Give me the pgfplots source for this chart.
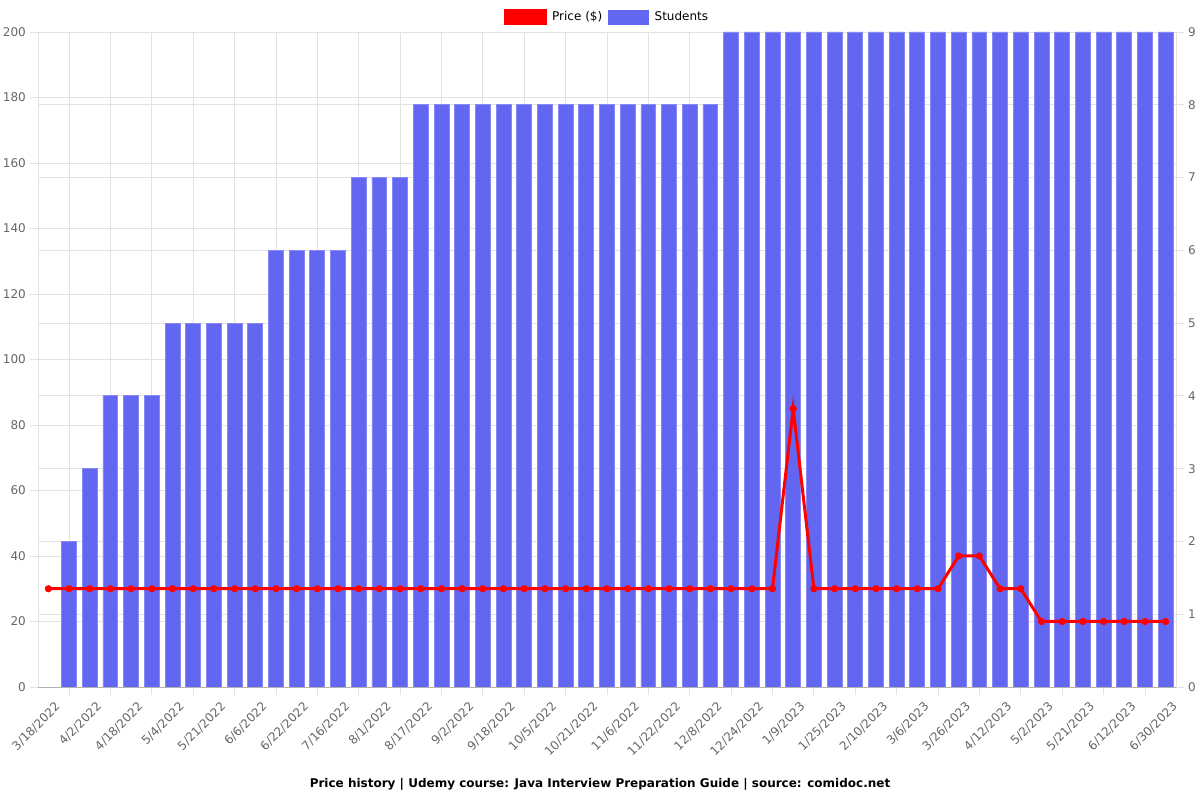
\documentclass[border=0pt]{standalone}
\usepackage{fontspec}
\setmainfont{DejaVu Sans}
\usepackage{pgfplots}
\pgfplotsset{compat=1.18}
\definecolor{barfill}{RGB}{99,102,241}
\definecolor{barline}{RGB}{135,138,246}
\definecolor{gridc}{RGB}{226,226,226}
\definecolor{tickc}{RGB}{102,102,102}
\newcommand{\fs}{\fontsize{12bp}{14bp}\selectfont}
\begin{document}
\fs
\begin{tikzpicture}
\path[use as bounding box] (0,0) rectangle (1200bp,800bp);
% Axis A: grids, left ticks, x labels, legend
\begin{axis}[
  at={(38bp,113bp)}, anchor=south west, scale only axis,
  width=1138bp, height=655bp,
  xmin=-0.5, xmax=54.5, ymin=0, ymax=200,
  axis x line*=bottom, axis y line*=left,
  x axis line style={-, draw=black!30, line width=0.8bp},
  y axis line style={-, draw=gridc, line width=0.8bp},
  /pgf/number format/assume math mode=true,
  tick label style={font=\fs, text=tickc},
  tick align=outside, major tick length=8bp,
  tick style={draw=gridc, line width=0.8bp},
  xtick={1,3,...,53}, xticklabels={},
  ytick={0,20,...,200},
  extra y ticks={22.2222,44.4444,66.6667,88.8889,111.1111,133.3333,155.5556,177.7778},
  extra y tick labels={},
  extra y tick style={major tick length=0pt},
  grid=major, grid style={draw=gridc, line width=0.8bp},
  extra x ticks={0,2,...,54},
  extra x tick labels={3/18/2022,4/2/2022,4/18/2022,5/4/2022,5/21/2022,6/6/2022,6/22/2022,7/16/2022,8/1/2022,8/17/2022,9/2/2022,9/18/2022,10/5/2022,10/21/2022,11/6/2022,11/22/2022,12/8/2022,12/24/2022,1/9/2023,1/25/2023,2/10/2023,3/6/2023,3/26/2023,4/12/2023,5/2/2023,5/21/2023,6/12/2023,6/30/2023},
  extra x tick style={grid=none, major tick length=0pt,
     xticklabel style={inner sep=0pt, xshift=6bp, yshift=-14bp, rotate=45, anchor=north east}},
  legend style={draw=none, fill=none, font=\fs, legend columns=2,
     at={(0.5,1)}, anchor=south, yshift=5bp,
     /tikz/every odd column/.append style={column sep=4bp},
     /tikz/every even column/.append style={column sep=4bp}},
]
\addlegendimage{legend image code/.code={\fill[red] (0bp,-7.5bp) rectangle (42bp,7.5bp);}}
\addlegendentry{Price (\$)}
\addlegendimage{legend image code/.code={\fill[barfill] (0bp,-7bp) rectangle (40bp,7bp);}}
\addlegendentry{Students}
\end{axis}
% Axis B: students bars, right axis
\begin{axis}[
  at={(38bp,113bp)}, anchor=south west, scale only axis,
  width=1138bp, height=655bp,
  xmin=-0.5, xmax=54.5, ymin=0, ymax=9,
  axis y line*=right, axis x line=none,
  /pgf/number format/assume math mode=true,
  tick label style={font=\fs, text=tickc},
  tick align=outside, major tick length=8bp,
  tick style={draw=gridc, line width=0.8bp},
  y axis line style={-, draw=gridc, line width=0.8bp},
  ytick={0,1,...,9},
  ybar, bar width=0.72,
]
\addplot[fill=barfill, draw=barline, line width=0.8bp] coordinates {
(1,2)(2,3)(3,4)(4,4)(5,4)(6,5)(7,5)(8,5)(9,5)(10,5)
(11,6)(12,6)(13,6)(14,6)(15,7)(16,7)(17,7)
(18,8)(19,8)(20,8)(21,8)(22,8)(23,8)(24,8)(25,8)(26,8)(27,8)(28,8)(29,8)(30,8)(31,8)(32,8)
(33,9)(34,9)(35,9)(36,9)(37,9)(38,9)(39,9)(40,9)(41,9)(42,9)(43,9)(44,9)(45,9)(46,9)(47,9)
(48,9)(49,9)(50,9)(51,9)(52,9)(53,9)(54,9)};
\end{axis}
% Axis C: price line
\begin{axis}[
  at={(38bp,113bp)}, anchor=south west, scale only axis,
  width=1138bp, height=655bp,
  xmin=-0.5, xmax=54.5, ymin=0, ymax=200,
  hide axis, clip=false,
]
\addplot[red, line width=3bp, mark=*, mark size=3.3bp, mark options={fill=red, draw=red, line width=0.5bp}] coordinates {
(0,30)(1,30)(2,30)(3,30)(4,30)(5,30)(6,30)(7,30)(8,30)(9,30)
(10,30)(11,30)(12,30)(13,30)(14,30)(15,30)(16,30)(17,30)(18,30)(19,30)
(20,30)(21,30)(22,30)(23,30)(24,30)(25,30)(26,30)(27,30)(28,30)(29,30)
(30,30)(31,30)(32,30)(33,30)(34,30)(35,30)(36,85)(37,30)(38,30)(39,30)
(40,30)(41,30)(42,30)(43,30)(44,40)(45,40)(46,30)(47,30)(48,20)(49,20)
(50,20)(51,20)(52,20)(53,20)(54,20)};
\end{axis}
\node[font=\bfseries\fs, anchor=base] at (600bp,13bp) {Price history | Udemy course: Java Interview Preparation Guide | source: comidoc.net};
\end{tikzpicture}
\end{document}
